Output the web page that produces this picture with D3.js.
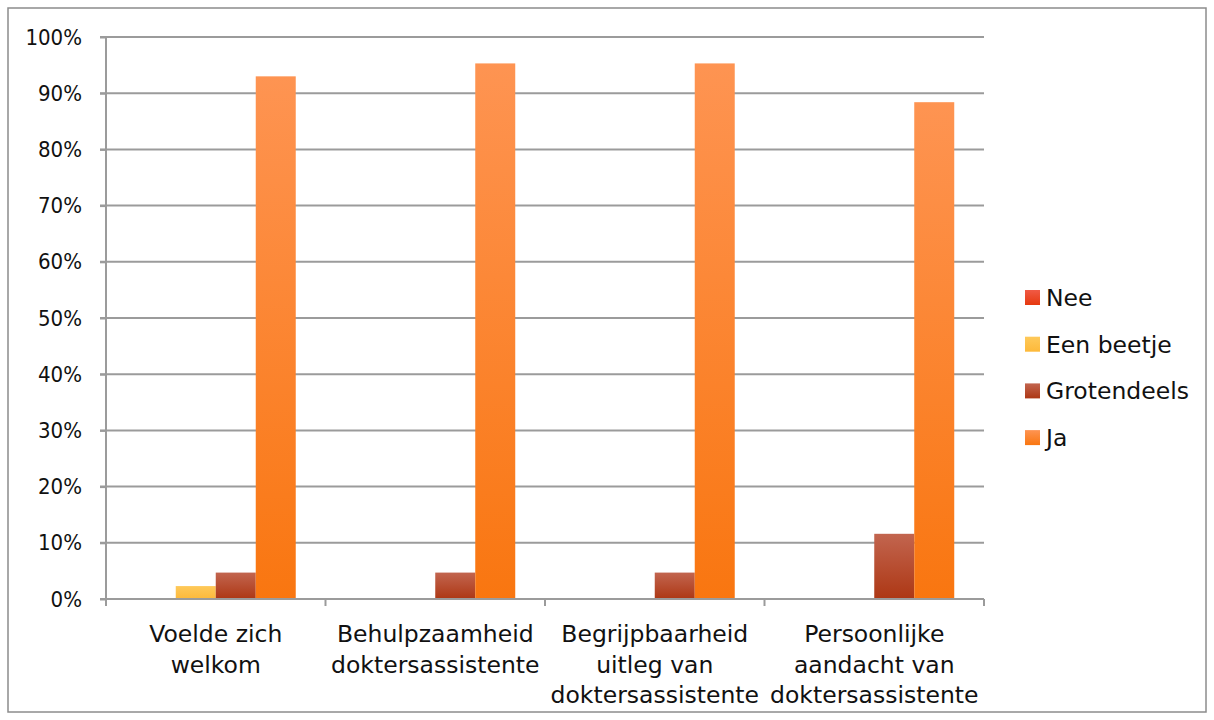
<!DOCTYPE html>
<html>
<head>
<meta charset="utf-8">
<title>Tevredenheid doktersassistente</title>
<style>
  body { margin: 0; background: #fff; }
  text { font-family: 'DejaVu Sans', sans-serif; fill: #111; }
</style>
</head>
<body>
<div id="chart"></div>
<script src="https://cdn.jsdelivr.net/npm/d3@7/dist/d3.min.js"></script>
<script>
var categories = [
    ['Voelde zich', 'welkom'],
    ['Behulpzaamheid', 'doktersassistente'],
    ['Begrijpbaarheid', 'uitleg van', 'doktersassistente'],
    ['Persoonlijke', 'aandacht van', 'doktersassistente']
];
var seriesNames = ['Nee', 'Een beetje', 'Grotendeels', 'Ja'];
var nee = [0, 0, 0, 0];
var eenBeetje = [0.023, 0, 0, 0];
var grotendeels = [0.047, 0.047, 0.047, 0.116];
var ja = [0.93, 0.953, 0.953, 0.884];
var yTicks = [0, 0.1, 0.2, 0.3, 0.4, 0.5, 0.6, 0.7, 0.8, 0.9, 1];

(function() {
    var width = 1214, height = 720;
    var left = 106, right = 984, top = 37, bottom = 599;
    var values = [nee, eenBeetje, grotendeels, ja];
    // light top -> dark bottom for each series
    var shades = [
        ['#f05a45', '#e6390f'],
        ['#fec95a', '#fdb93a'],
        ['#c2654f', '#ad3714'],
        ['#fe9452', '#f97610']
    ];

    var svg = d3.select('#chart').append('svg')
        .attr('width', width).attr('height', height);

    var defs = svg.append('defs');
    shades.forEach(function(s, i) {
        var g = defs.append('linearGradient').attr('id', 'grad' + i)
            .attr('x1', 0).attr('y1', 0).attr('x2', 0).attr('y2', 1);
        g.append('stop').attr('offset', '0%').attr('stop-color', s[0]);
        g.append('stop').attr('offset', '100%').attr('stop-color', s[1]);
    });

    svg.append('rect')
        .attr('x', 8).attr('y', 8).attr('width', 1198).attr('height', 704)
        .attr('fill', 'none').attr('stroke', '#8c8c8c').attr('stroke-width', 1.5);

    var x0 = d3.scaleBand().domain(d3.range(categories.length))
        .range([left, right]).paddingInner(0).paddingOuter(0);
    var x1 = d3.scaleBand().domain(d3.range(seriesNames.length))
        .range([0, x0.bandwidth()]).paddingOuter(0.744);
    var y = d3.scaleLinear().domain([0, 1]).range([bottom, top]);

    // gridlines
    svg.append('g').selectAll('line').data(yTicks).enter().append('line')
        .attr('x1', left - 6).attr('x2', right)
        .attr('y1', function(d) { return y(d); })
        .attr('y2', function(d) { return y(d); })
        .attr('stroke', '#9b9b9b').attr('stroke-width', 2);

    // y axis
    var yAxis = svg.append('g').attr('transform', 'translate(' + left + ',0)')
        .call(d3.axisLeft(y).tickValues(yTicks).tickFormat(d3.format('.0%'))
            .tickSize(6).tickPadding(18));
    yAxis.selectAll('line').attr('stroke', '#9b9b9b').attr('stroke-width', 2);
    yAxis.select('.domain').attr('stroke', '#9b9b9b').attr('stroke-width', 2)
        .attr('d', 'M0,' + top + 'V' + bottom);
    yAxis.selectAll('text').style('font-size', '22px')
        .style('font-family', "'DejaVu Sans Condensed', 'DejaVu Sans', sans-serif")
        .attr('fill', '#111');

    // bars
    var groups = svg.append('g').selectAll('g').data(categories).enter().append('g')
        .attr('transform', function(d, i) { return 'translate(' + x0(i) + ',0)'; });
    groups.selectAll('rect')
        .data(function(d, i) { return values.map(function(v, s) { return { s: s, v: v[i] }; }); })
        .enter().append('rect')
        .filter(function(d) { return d.v > 0; })
        .attr('x', function(d) { return x1(d.s); })
        .attr('width', x1.bandwidth())
        .attr('y', function(d) { return y(d.v); })
        .attr('height', function(d) { return bottom - y(d.v); })
        .attr('fill', function(d) { return 'url(#grad' + d.s + ')'; });

    // x axis
    var xAxis = svg.append('g');
    xAxis.append('line').attr('x1', left).attr('x2', right)
        .attr('y1', bottom).attr('y2', bottom)
        .attr('stroke', '#9b9b9b').attr('stroke-width', 2);
    xAxis.selectAll('.tick').data(d3.range(categories.length + 1)).enter().append('line')
        .attr('x1', function(i) { return left + i * x0.bandwidth(); })
        .attr('x2', function(i) { return left + i * x0.bandwidth(); })
        .attr('y1', bottom).attr('y2', bottom + 7)
        .attr('stroke', '#9b9b9b').attr('stroke-width', 2);
    var labels = xAxis.selectAll('text').data(categories).enter().append('text')
        .attr('text-anchor', 'middle')
        .style('font-size', '23.5px')
        .attr('transform', function(d, i) {
            return 'translate(' + (x0(i) + x0.bandwidth() / 2) + ',642)';
        });
    labels.selectAll('tspan').data(function(d) { return d; }).enter().append('tspan')
        .attr('x', 0).attr('y', function(d, i) { return i * 30.5; })
        .text(function(d) { return d; });

    // legend
    var legend = svg.append('g').selectAll('g').data(seriesNames).enter().append('g')
        .attr('transform', function(d, i) { return 'translate(1025,' + (290 + i * 46.7) + ')'; });
    legend.append('rect').attr('width', 15).attr('height', 15)
        .attr('fill', function(d, i) { return 'url(#grad' + i + ')'; });
    legend.append('text').attr('x', 21).attr('y', 16)
        .style('font-size', '23.5px')
        .text(function(d) { return d; });
})();
</script>
</body>
</html>
